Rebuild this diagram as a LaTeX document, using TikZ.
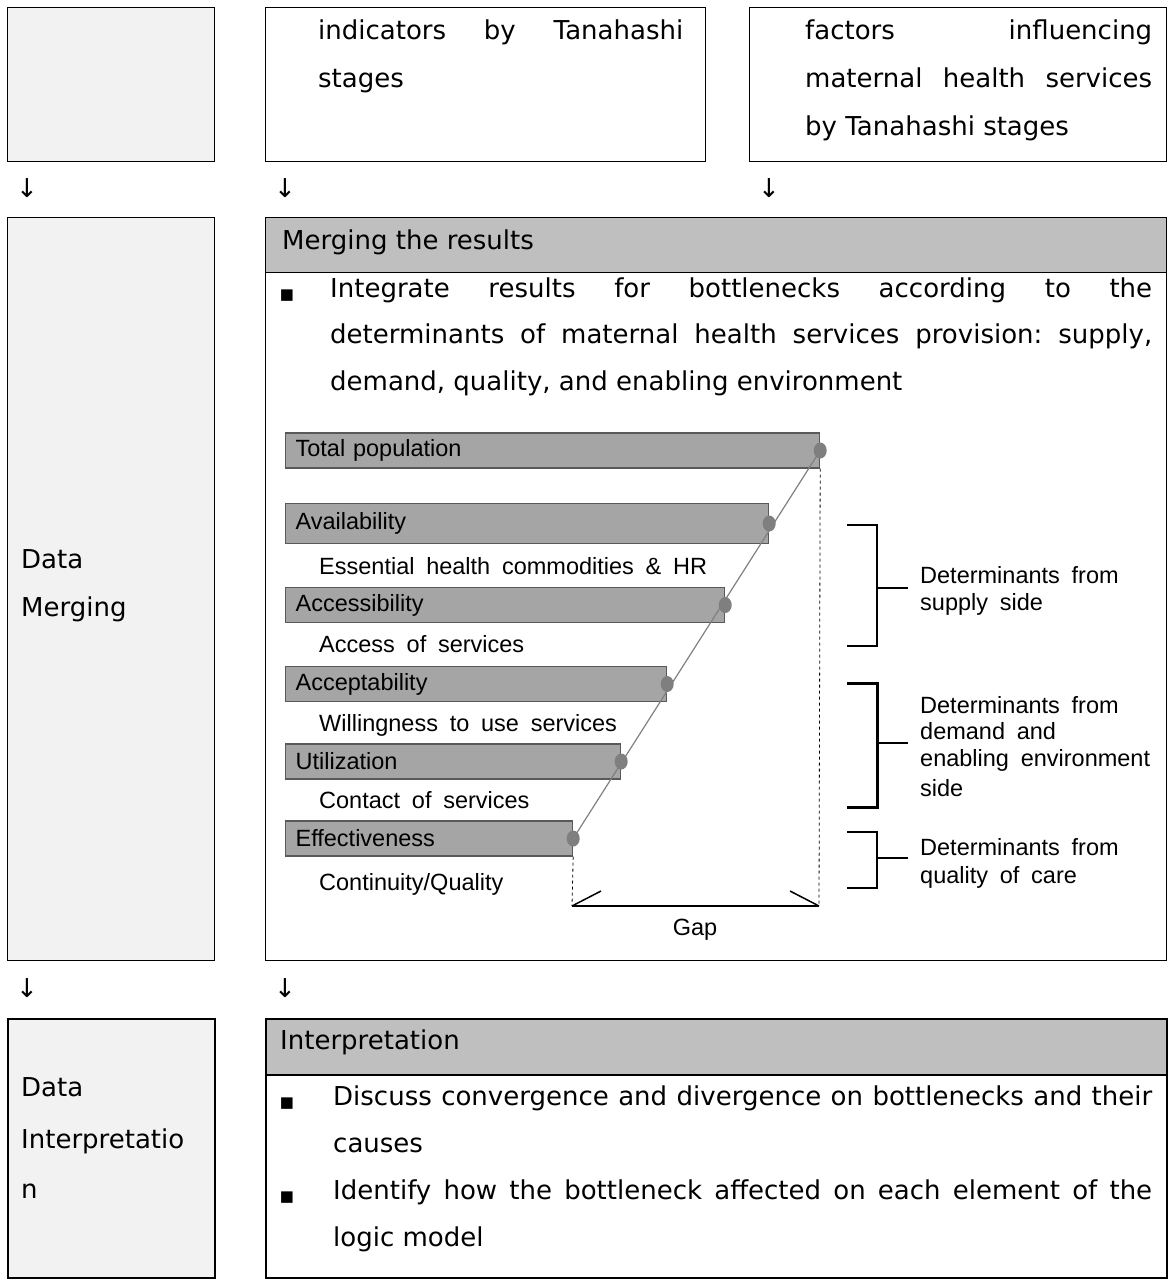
\documentclass[tikz,border=0pt]{standalone}
\usepackage{fontspec}
\setmainfont{DejaVu Sans}
\newfontfamily\figfont[WordSpace=1.8]{Liberation Sans}
\usetikzlibrary{positioning}
\definecolor{boxgray}{HTML}{F2F2F2}
\definecolor{headgray}{HTML}{BFBFBF}
\definecolor{barfill}{HTML}{A5A5A5}
\definecolor{barline}{HTML}{595959}
\definecolor{dotgray}{HTML}{7F7F7F}
\newcommand{\jline}[2]{\makebox[#1pt][s]{#2}}
\frenchspacing

\begin{document}
\begin{tikzpicture}[x=1pt,y=-1pt,
	frame/.style={draw,line width=1.2pt,anchor=north west,inner sep=0pt},
	thickframe/.style={frame,line width=2.2pt},
	txt/.style={anchor=base west,inner sep=0pt,font=\fontsize{26}{48}\selectfont},
	down/.style={inner sep=0pt,font=\fontsize{26}{26}\selectfont},
	bul/.style={anchor=base,inner sep=0pt,font=\fontsize{15}{15}\selectfont},
	bar/.style={draw=barline,fill=barfill,line width=1.2pt,anchor=west,inner xsep=10pt,inner ysep=0pt,minimum height=35pt,align=left,font=\figfont\fontsize{23.5}{23.5}\selectfont},
	fig/.style={anchor=base west,inner sep=0pt,font=\figfont\fontsize{23.5}{23.5}\selectfont},
	brace/.style={line width=2.5pt}]
	\useasboundingbox (0,0) rectangle (1168,1283);
	
	\node[frame,fill=boxgray,minimum width=207pt,minimum height=154pt] (sone) at (7,7) {};
	\node[frame,minimum width=440pt,minimum height=154pt] (indbox) at (265,7) {};
	\node[frame,minimum width=417pt,minimum height=154pt] (facbox) at (749,7) {};
	\node[txt] (ind1) at (318,39) {\jline{365}{indicators by Tanahashi}};
	\node[txt] (ind2) at (318,87) {stages};
	\node[txt] (fac1) at (805,39) {\jline{347}{factors influencing}};
	\node[txt] (fac2) at (805,87) {\jline{347}{maternal health services}};
	\node[txt] (fac3) at (805,135) {by Tanahashi stages};
	\node[down] (done) at (27,188) {↓};
	\node[down] (dtwo) at (285,188) {↓};
	\node[down] (dthree) at (769,188) {↓};
	
	\node[frame,fill=boxgray,minimum width=207pt,minimum height=743pt] (mergel) at (7,217) {};
	\node[frame,fill=headgray,minimum width=901pt,minimum height=55pt] (mergehd) at (265,217) {};
	\node[frame,minimum width=901pt,minimum height=743pt] (merge) at (265,217) {};
	\node[txt] (ml1) at (21,568) {Data};
	\node[txt] (ml2) at (21,616) {Merging};
	\node[txt] (mt) at (282,249) {Merging the results};
	\node[bul] (mb) at (287,299) {■};
	\node[txt] (mx1) at (330,297) {\jline{822}{Integrate results for bottlenecks according to the}};
	\node[txt] (mx2) at (330,343) {\jline{822}{determinants of maternal health services provision: supply,}};
	\node[txt] (mx3) at (330,390) {demand, quality, and enabling environment};
	
	\node[bar,text width=514pt] (tot) at (285,450.5) {Total population};
	\node[bar,text width=463pt,minimum height=40pt] (avail) at (285,523.5) {Availability};
	\node[bar,text width=419pt] (acc) at (285,605) {Accessibility};
	\node[bar,text width=361pt] (acpt) at (285,684) {Acceptability};
	\node[bar,text width=315pt] (util) at (285,761.5) {Utilization};
	\node[bar,text width=267pt] (eff) at (285,838.5) {Effectiveness};
	\node[fig] (s1) at (319,574) {Essential health commodities \& HR};
	\node[fig] (s2) at (319,652) {Access of services};
	\node[fig] (s3) at (319,731) {Willingness to use services};
	\node[fig] (s4) at (319,808) {Contact of services};
	\node[fig] (s5) at (319,890) {Continuity/Quality};
	\coordinate (gl) at (572,906);
	\coordinate (gr) at (819,906);
	\draw[dashed,line width=0.8pt] (tot.south east) -- (gr);
	\draw[dashed,line width=0.8pt] (eff.south east) -- (gl);
	\draw[gray,line width=1.2pt] (eff.east) -- (tot.east);
	\foreach \b in {tot,avail,acc,acpt,util,eff}
		\fill[dotgray] (\b.east) ellipse (6.5pt and 8pt);
	\draw[line width=2pt] (gl) -- (gr);
	\draw[line width=1.5pt] (gl) -- ++(29,-15);
	\draw[line width=1.5pt] (gr) -- ++(-29,-15);
	\node[fig,anchor=base] (gap) at (695,935) {Gap};
	
	\draw[brace] (847,525) -- (877,525) -- (877,646) -- (847,646);
	\draw[brace] (877,588) -- (908,588);
	\draw[brace,line width=3pt] (847,683) -- (877,683) -- (877,807) -- (847,807);
	\draw[brace] (877,743) -- (908,743);
	\draw[brace] (847,832) -- (877,832) -- (877,888) -- (847,888);
	\draw[brace] (877,858) -- (908,858);
	\node[fig] (sup1) at (920,583) {Determinants from};
	\node[fig] (sup2) at (920,610) {supply side};
	\node[fig] (dem1) at (920,713) {Determinants from};
	\node[fig] (dem2) at (920,739) {demand and};
	\node[fig] (dem3) at (920,766) {enabling environment};
	\node[fig] (dem4) at (920,796) {side};
	\node[fig] (qual1) at (920,855) {Determinants from};
	\node[fig] (qual2) at (920,883) {quality of care};
	
	\node[down] (dfour) at (27,988) {↓};
	\node[down] (dfive) at (285,988) {↓};
	
	\node[thickframe,fill=boxgray,minimum width=207pt,minimum height=259pt] (interl) at (7,1018) {};
	\node[thickframe,fill=headgray,minimum width=901pt,minimum height=56pt] (interhd) at (265,1018) {};
	\node[thickframe,minimum width=901pt,minimum height=259pt] (inter) at (265,1018) {};
	\node[txt] (il1) at (21,1096) {Data};
	\node[txt] (il2) at (21,1148) {Interpretatio};
	\node[txt] (il3) at (21,1198) {n};
	\node[txt] (it) at (280,1049) {Interpretation};
	\node[bul] (ib1) at (287,1107) {■};
	\node[bul] (ib2) at (287,1201) {■};
	\node[txt] (ix1) at (333,1105) {\jline{819}{Discuss convergence and divergence on bottlenecks and their}};
	\node[txt] (ix2) at (333,1152) {causes};
	\node[txt] (ix3) at (333,1199) {\jline{819}{Identify how the bottleneck affected on each element of the}};
	\node[txt] (ix4) at (333,1246) {logic model};
\end{tikzpicture}
\end{document}
